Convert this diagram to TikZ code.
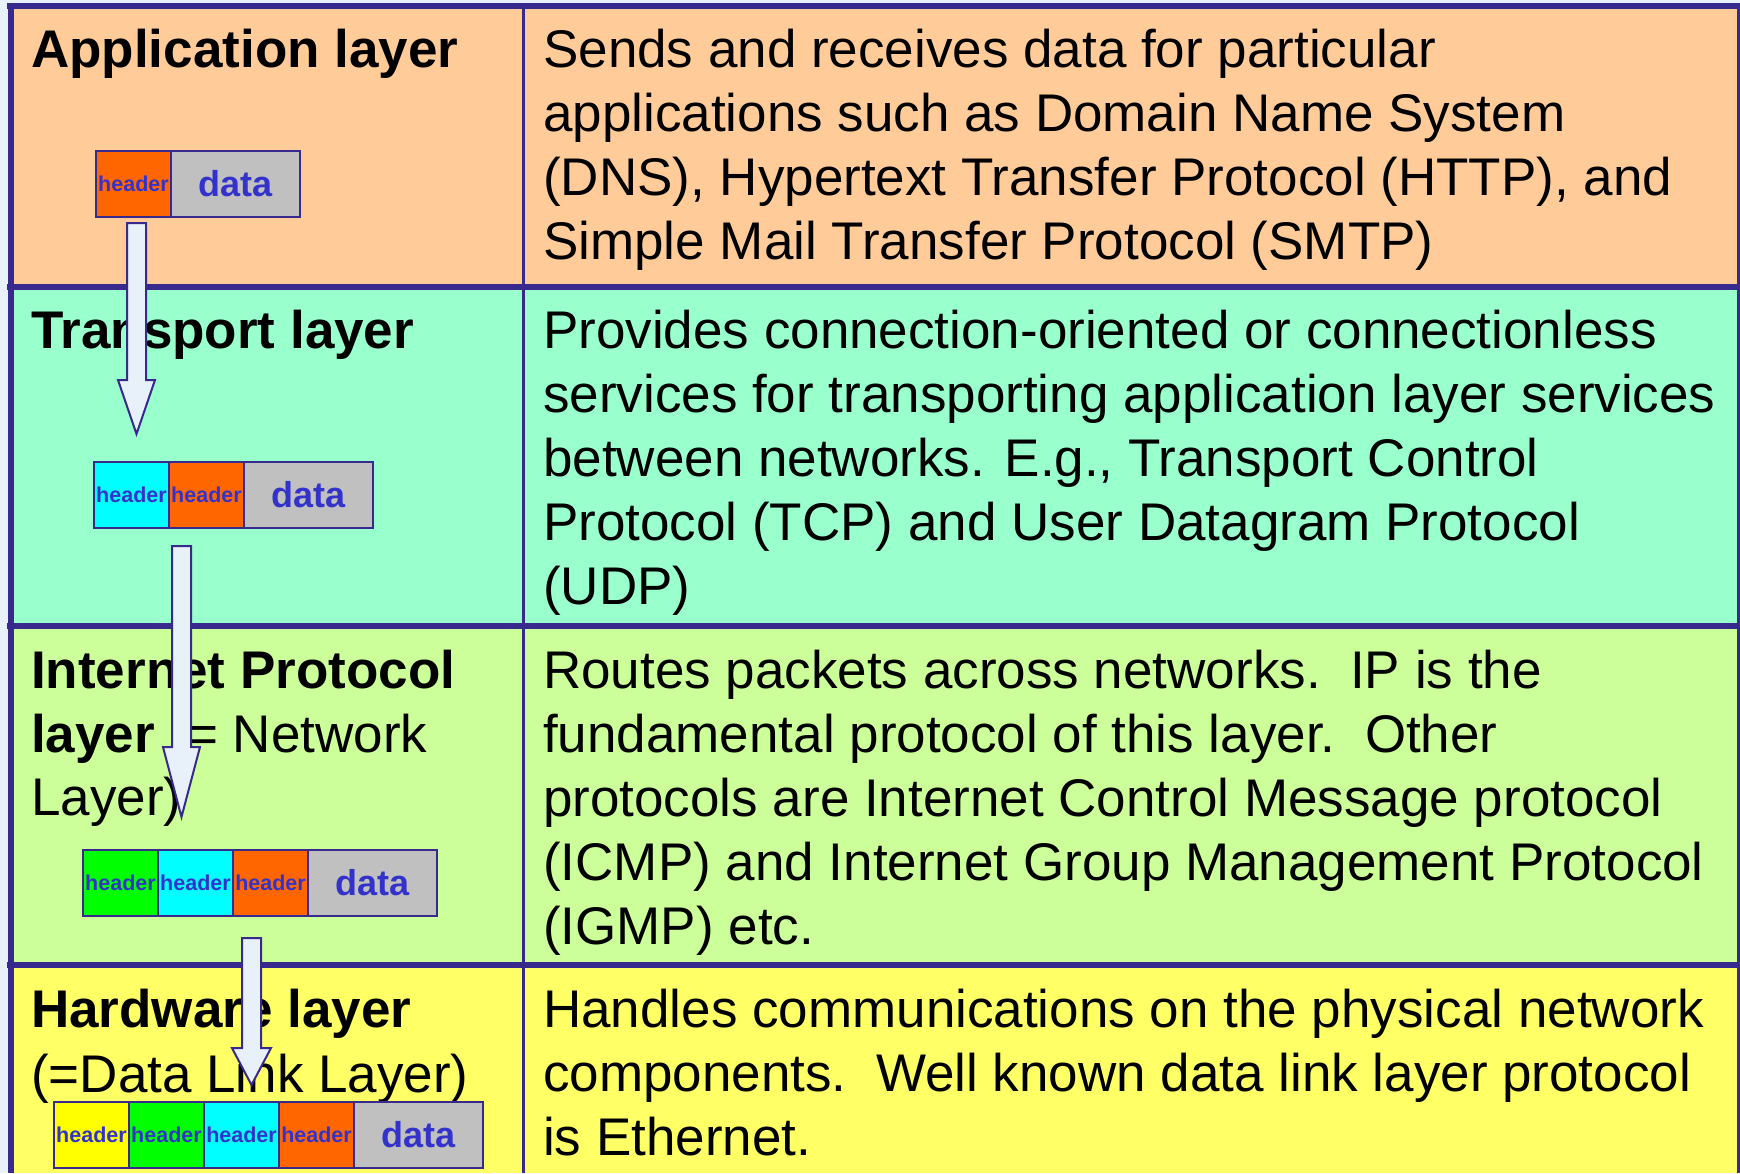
\documentclass[tikz,border=0pt]{standalone}
\usepackage{fontspec}
\setmainfont{Liberation Sans}
\definecolor{bord}{HTML}{382A8C}
\definecolor{bgblue}{HTML}{E8F0F9}
\definecolor{rowa}{HTML}{FFCC99}
\definecolor{rowb}{HTML}{99FFCC}
\definecolor{rowc}{HTML}{CCFF99}
\definecolor{rowd}{HTML}{FFFF66}
\definecolor{horange}{HTML}{FF6600}
\definecolor{hcyan}{HTML}{00FFFF}
\definecolor{hgreen}{HTML}{00FF00}
\definecolor{hyellow}{HTML}{FFFF00}
\definecolor{hgray}{HTML}{C0C0C0}
\definecolor{htext}{HTML}{3333CC}
\newcommand{\mylines}[1]{\vtop{\fontsize{53}{64}\selectfont #1}}
\begin{document}
\begin{tikzpicture}[x=1pt,y=-1pt,
  txt/.style={anchor=base west, inner sep=0pt, font=\fontsize{53}{64}\selectfont},
  hdr/.style={draw=bord, line width=2.2pt, anchor=north west, inner sep=0pt, outer sep=0pt,
    minimum width=75pt, minimum height=66pt, text=htext,
    font=\bfseries\fontsize{21.5}{24}\selectfont},
  dat/.style={hdr, minimum width=129pt, fill=hgray, font=\bfseries\fontsize{36}{40}\selectfont},
  hline/.style={draw=bord, line width=6pt},
  vline/.style={draw=bord, line width=3pt},
  barrow/.style={draw=bord, fill=bgblue, line width=2pt, line join=miter}
]
\useasboundingbox (0,0) rectangle (1740,1173);
\fill[bgblue] (0,0) rectangle (1740,1173);
% rows
\fill[rowa] (10,5) rectangle (1740,287);
\fill[rowb] (10,287) rectangle (1740,626);
\fill[rowc] (10,626) rectangle (1740,965);
\fill[rowd] (10,965) rectangle (1740,1173);
% grid
\draw[hline] (7,5.5) -- (1740,5.5);
\draw[hline] (7,287) -- (1740,287);
\draw[hline] (7,626) -- (1740,626);
\draw[hline] (7,965) -- (1740,965);
\draw[draw=bord, line width=6pt] (10.5,5) -- (10.5,1173);
\draw[vline] (523,5) -- (523,1173);
\draw[vline] (1738.5,5) -- (1738.5,1173);

% left titles
\node[txt] (t1) at (31,67) {\bfseries Application layer};
\node[txt] (t2) at (31,348) {\bfseries Transport layer};
\node[txt] (t3a) at (31,688) {\bfseries Internet Protocol};
\node[txt] (t3b) at (31,752) {\textbf{layer} (= Network};
\node[txt] (t3c) at (31,815) {Layer)};
\node[txt] (t4a) at (31,1027) {\bfseries Hardware layer};
\node[txt] (t4b) at (31,1092) {(=Data Link Layer)};

% right descriptions
\node[txt] (d1) at (543,67) {\mylines{%
\hbox{Sends and receives data for particular}%
\hbox{applications such as Domain Name System}%
\hbox{(DNS), Hypertext Transfer Protocol (HTTP), and}%
\hbox{Simple Mail Transfer Protocol (SMTP)}}};
\node[txt] (d2) at (543,348) {\mylines{%
\hbox{Provides connection-oriented or connectionless}%
\hbox{services for transporting application layer services}%
\hbox{between networks. E.g., Transport Control}%
\hbox{Protocol (TCP) and User Datagram Protocol}%
\hbox{(UDP)}}};
\node[txt] (d3) at (543,688) {\mylines{%
\hbox{Routes packets across networks.\ \ IP is the}%
\hbox{fundamental protocol of this layer.\ \ Other}%
\hbox{protocols are Internet Control Message protocol}%
\hbox{(ICMP) and Internet Group Management Protocol}%
\hbox{(IGMP) etc.}}};
\node[txt] (d4) at (543,1027) {\mylines{%
\hbox{Handles communications on the physical network}%
\hbox{components.\ \ Well known data link layer protocol}%
\hbox{is Ethernet.}}};

% packets
\node[hdr, fill=horange] (p1a) at (96,151) {header};
\node[dat] (p1d) at (p1a.north east) {data};

\node[hdr, fill=hcyan] (p2a) at (94,462) {header};
\node[hdr, fill=horange] (p2b) at (p2a.north east) {header};
\node[dat] (p2d) at (p2b.north east) {data};

\node[hdr, fill=hgreen] (p3a) at (83,850) {header};
\node[hdr, fill=hcyan] (p3b) at (p3a.north east) {header};
\node[hdr, fill=horange] (p3c) at (p3b.north east) {header};
\node[dat] (p3d) at (p3c.north east) {data};

\node[hdr, fill=hyellow] (p4a) at (54,1102) {header};
\node[hdr, fill=hgreen] (p4b) at (p4a.north east) {header};
\node[hdr, fill=hcyan] (p4c) at (p4b.north east) {header};
\node[hdr, fill=horange] (p4d) at (p4c.north east) {header};
\node[dat] (p4e) at (p4d.north east) {data};

% block arrows
\coordinate (a1s) at (136.5,223);
\coordinate (a1t) at (136.5,434);
\draw[barrow] ([xshift=-9.5pt]a1s) -- ([xshift=9.5pt]a1s) -- ([xshift=9.5pt]a1s |- 0,380)
  -- ([xshift=18.5pt]a1s |- 0,380) -- (a1t) -- ([xshift=-18.5pt]a1s |- 0,380)
  -- ([xshift=-9.5pt]a1s |- 0,380) -- cycle;
\coordinate (a2s) at (181.5,546);
\coordinate (a2t) at (181.5,817);
\draw[barrow] ([xshift=-9.5pt]a2s) -- ([xshift=9.5pt]a2s) -- ([xshift=9.5pt]a2s |- 0,747)
  -- ([xshift=18.5pt]a2s |- 0,747) -- (a2t) -- ([xshift=-18.5pt]a2s |- 0,747)
  -- ([xshift=-9.5pt]a2s |- 0,747) -- cycle;
\coordinate (a3s) at (251.5,938);
\coordinate (a3t) at (251.5,1085);
\draw[barrow] ([xshift=-9.5pt]a3s) -- ([xshift=9.5pt]a3s) -- ([xshift=9.5pt]a3s |- 0,1048)
  -- ([xshift=19.5pt]a3s |- 0,1048) -- (a3t) -- ([xshift=-19.5pt]a3s |- 0,1048)
  -- ([xshift=-9.5pt]a3s |- 0,1048) -- cycle;
\end{tikzpicture}
\end{document}
